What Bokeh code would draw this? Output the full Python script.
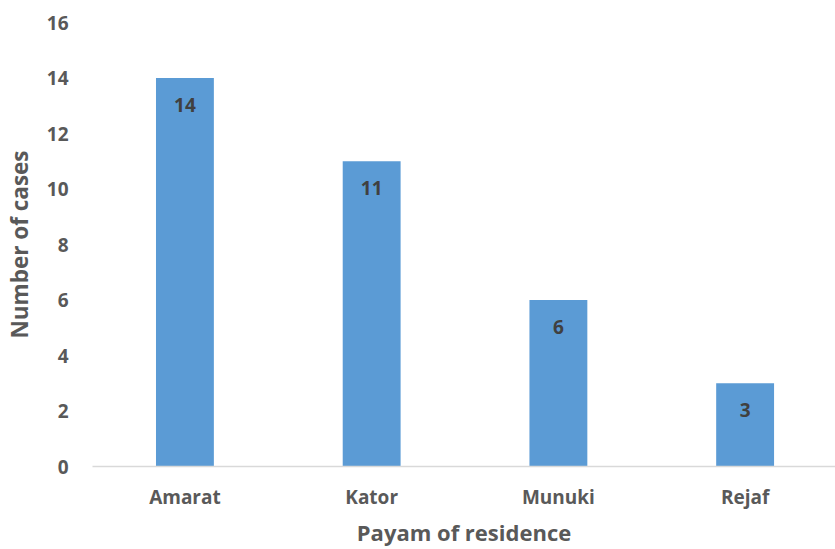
from bokeh.plotting import figure
from bokeh.models import Range1d, FixedTicker, ColumnDataSource
from bokeh.core.properties import value
from bokeh.embed import file_html
from bokeh.resources import INLINE

categories = ["Amarat", "Kator", "Munuki", "Rejaf"]
cases = [14, 11, 6, 3]
y_ticks = [0, 2, 4, 6, 8, 10, 12, 14, 16]

xs = [i + 0.5 for i in range(len(categories))]
src = ColumnDataSource(dict(x=xs, top=cases, label=[str(v) for v in cases]))

FONT = "Open Sans"
p = figure(frame_width=743, frame_height=444, output_backend="svg", toolbar_location=None,
           x_range=Range1d(0.005, 3.984), y_range=Range1d(0, 16),
           min_border_left=80, min_border_right=0, min_border_top=22, min_border_bottom=0)
p.outline_line_color = None
p.grid.visible = False

p.vbar(x="x", top="top", bottom=0, width=0.31, source=src, fill_color="#5B9BD5", line_color=None)
p.text(x="x", y="top", text="label", source=src, y_offset=27, text_align="center",
       text_baseline="middle", text_font=value(FONT), text_font_style="bold",
       text_font_size="19px", text_color="#404040")

xa = p.xaxis[0]
xa.ticker = FixedTicker(ticks=xs)
xa.major_label_overrides = {x: c for x, c in zip(xs, categories)}
xa.axis_line_color = "#D9D9D9"
xa.axis_line_width = 1.5
xa.major_tick_line_color = None
xa.minor_tick_line_color = None
xa.major_tick_out = 0
xa.major_tick_in = 0
xa.major_label_standoff = 17
xa.major_label_text_font = FONT
xa.major_label_text_font_style = "bold"
xa.major_label_text_font_size = "19px"
xa.major_label_text_color = "#595959"
xa.axis_label = "Payam of residence"
xa.axis_label_text_font = FONT
xa.axis_label_text_font_style = "bold"
xa.axis_label_text_font_size = "22px"
xa.axis_label_text_color = "#595959"
xa.axis_label_standoff = 4

ya = p.yaxis[0]
ya.ticker = FixedTicker(ticks=y_ticks)
ya.axis_line_color = None
ya.major_tick_line_color = None
ya.minor_tick_line_color = None
ya.major_tick_out = 0
ya.major_tick_in = 0
ya.major_label_standoff = 24
ya.major_label_text_font = FONT
ya.major_label_text_font_style = "bold"
ya.major_label_text_font_size = "19px"
ya.major_label_text_color = "#595959"
ya.axis_label = "Number of cases"
ya.axis_label_text_font = FONT
ya.axis_label_text_font_style = "bold"
ya.axis_label_text_font_size = "22.5px"
ya.axis_label_text_color = "#595959"
ya.axis_label_standoff = 9

open("out.html", "w").write(file_html(p, INLINE))
